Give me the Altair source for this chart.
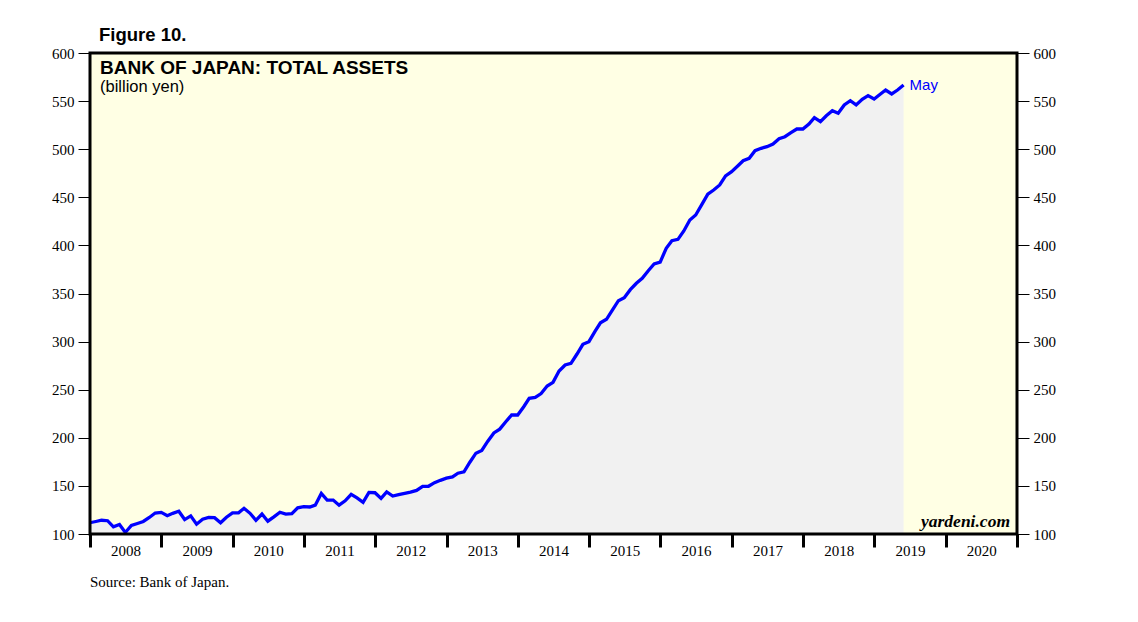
import altair as alt
import pandas as pd

# ---- data (month-end values, Dec 2007 .. May 2019) ----
first_month_end = "2007-12-31"
assets = [
    111.7, 113.0, 114.3, 113.8, 107.4, 109.8, 101.6, 108.8, 110.9, 113.0,
    117.2, 121.8, 122.5, 119.0, 121.5, 123.6, 115.0, 118.8, 110.2, 115.3,
    117.2, 117.0, 111.7, 117.4, 122.0, 122.0, 126.7, 121.5, 114.2, 120.8,
    113.3, 117.8, 122.6, 120.6, 121.2, 127.2, 128.4, 128.1, 130.0, 142.1,
    135.2, 135.3, 130.0, 134.5, 141.3, 137.6, 133.0, 143.2, 142.9, 137.0,
    143.8, 139.5, 141.0, 142.3, 143.5, 145.3, 149.6, 149.6, 153.4, 155.8,
    158.0, 159.3, 163.2, 164.6, 174.6, 184.0, 186.8, 196.5, 205.0, 209.0,
    216.7, 223.7, 223.7, 232.3, 241.0, 242.0, 246.0, 253.8, 257.7, 269.4,
    275.7, 277.4, 287.1, 297.2, 299.9, 310.7, 319.6, 323.2, 332.8, 342.5,
    345.6, 354.0, 360.6, 365.8, 373.7, 380.7, 382.7, 397.0, 404.9, 406.3,
    415.0, 426.4, 431.6, 442.3, 453.2, 457.6, 462.8, 472.3, 476.6, 482.5,
    488.0, 490.5, 498.4, 500.9, 502.6, 505.4, 510.9, 513.0, 517.2, 521.0,
    521.0, 526.2, 532.8, 528.6, 534.8, 540.0, 537.3, 546.0, 550.4, 546.0,
    551.9, 555.7, 552.2, 557.1, 561.5, 557.4, 561.5, 566.7,
]
year_ticks = list(range(2008, 2022))
y_ticks = list(range(100, 601, 50))
y_domain = [100, 600]
end_label = "May"

figure_label = "Figure 10."
chart_title = "BANK OF JAPAN: TOTAL ASSETS"
chart_subtitle = "(billion yen)"
watermark = "yardeni.com"
source_note = "Source: Bank of Japan."

W, H = 927, 481
SANS = "Liberation Sans"
SERIF = "Liberation Serif"

dates = pd.date_range(first_month_end, periods=len(assets), freq="ME")
df = pd.DataFrame({"date": dates.strftime("%Y-%m-%d"), "assets": assets})
last_df = df.tail(1).assign(label=end_label)

x_axis = alt.Axis(
    values=[alt.DateTime(year=y, month=1, date=1) for y in year_ticks],
    format="%Y",
    formatType="time",
    labelExpr="datum.label == '2021' ? '' : datum.label",
    labelOffset=35.6,
    labelFlush=False,
    labelOverlap=False,
    labelBaseline="alphabetic",
    labelPadding=8,
    tickSize=13,
    tickWidth=3,
    tickColor="black",
    domain=False,
    grid=False,
    title=None,
    labelFont=SERIF,
    labelFontSize=15,
    labelColor="black",
)
x_enc = alt.X(
    "date:T",
    scale=alt.Scale(domain=[alt.DateTime(year=2008, month=1, date=1),
                            alt.DateTime(year=2021, month=1, date=1)]),
    axis=x_axis,
)

def y_axis(orient):
    return alt.Axis(
        orient=orient, values=y_ticks, tickSize=12, tickWidth=1, tickColor="black",
        labelPadding=4, domain=False, grid=False, title=None,
        labelFont=SERIF, labelFontSize=15, labelColor="black",
    )

y_scale = alt.Scale(domain=y_domain, nice=False, zero=False)

area = alt.Chart(df).mark_area(color="#F1F1F1").encode(
    x=x_enc,
    y=alt.Y("assets:Q", scale=y_scale, axis=y_axis("left"), stack=None),
    y2=alt.datum(100),
)

line = alt.Chart(df).mark_line(color="#0000FF", strokeWidth=3.3).encode(
    x=x_enc,
    y=alt.Y("assets:Q", scale=y_scale, axis=y_axis("right")),
)

may = alt.Chart(last_df).mark_text(
    align="left", baseline="middle", dx=6, font=SANS, fontSize=15, color="#0000FF"
).encode(
    x=x_enc,
    y=alt.Y("assets:Q", scale=y_scale, axis=None),
    text="label:N",
)

def text_layer(txt, x, y, **kw):
    return alt.Chart(pd.DataFrame({"t": [txt]})).mark_text(**kw).encode(
        x=alt.value(x), y=alt.value(y), text="t:N"
    )

fig = text_layer(figure_label, 9, -12, align="left", baseline="alphabetic",
                 font=SANS, fontSize=18.5, fontWeight="bold", color="black")
title = text_layer(chart_title, 10, 21, align="left", baseline="alphabetic",
                   font=SANS, fontSize=19, fontWeight="bold", color="black")
subtitle = text_layer(chart_subtitle, 10, 38.5, align="left", baseline="alphabetic",
                      font=SANS, fontSize=16.5, color="black")
wm = text_layer(watermark, 920, 474, align="right", baseline="alphabetic",
                font=SERIF, fontSize=17.5, fontStyle="italic", fontWeight="bold", color="black")
src = text_layer(source_note, 0, 534, align="left", baseline="alphabetic",
                 font=SERIF, fontSize=15, color="black")

border = alt.Chart(pd.DataFrame({"a": [0]})).mark_rect(
    fillOpacity=0, stroke="black", strokeWidth=3
).encode(x=alt.value(0), x2=alt.value(W), y=alt.value(0), y2=alt.value(H))

chart = alt.layer(area, line, may, fig, title, subtitle, wm, src, border).resolve_scale(
    y="independent"
).properties(
    width=W,
    height=H,
    autosize=alt.AutoSizeParams(type="none"),
    padding={"left": 82, "top": 45, "right": 100, "bottom": 70},
    background="white",
).configure_view(fill="#FFFFE4", stroke=None)

chart.save("out.html", embed_options={"renderer": "svg", "actions": False})
